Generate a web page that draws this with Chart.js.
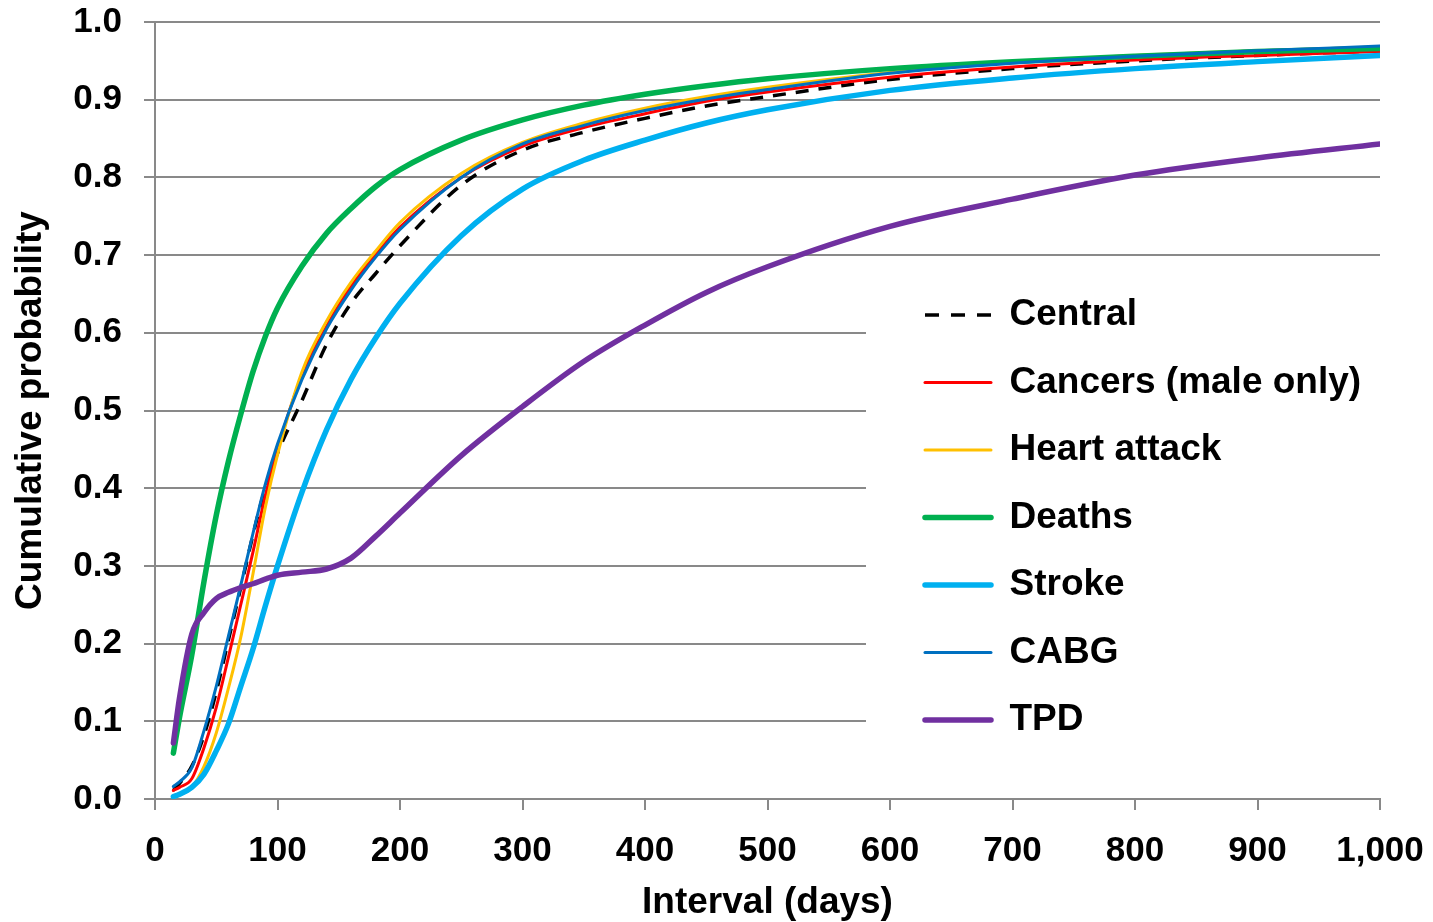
<!DOCTYPE html>
<html>
<head>
<meta charset="utf-8">
<script src="https://cdn.jsdelivr.net/npm/chart.js@4/dist/chart.umd.min.js"></script>
<style>
html,body{margin:0;padding:0;background:#fff;}
#wrap{position:relative;width:1433px;height:922px;}
</style>
</head>
<body>
<div id="wrap"><canvas id="c"></canvas></div>
<script>
// ---- data ----
const days = [15,20,30,40,50,60,70,80,90,100,120,140,160,180,200,250,300,350,400,450,500,600,700,800,900,1000];
const central     = [0.011,0.020,0.042,0.082,0.138,0.205,0.272,0.340,0.400,0.445,0.513,0.585,0.638,0.676,0.712,0.790,0.835,0.858,0.876,0.892,0.904,0.926,0.940,0.950,0.957,0.963];
const cancers     = [0.011,0.015,0.026,0.066,0.118,0.183,0.250,0.318,0.390,0.450,0.545,0.608,0.660,0.700,0.736,0.800,0.840,0.864,0.882,0.898,0.910,0.929,0.942,0.951,0.957,0.962];
const heartAttack = [0.002,0.005,0.015,0.042,0.085,0.143,0.208,0.290,0.375,0.443,0.550,0.615,0.665,0.705,0.742,0.805,0.845,0.870,0.889,0.904,0.916,0.935,0.948,0.957,0.963,0.968];
const deaths      = [0.059,0.105,0.185,0.280,0.365,0.435,0.495,0.550,0.595,0.632,0.686,0.728,0.760,0.788,0.810,0.848,0.874,0.893,0.907,0.918,0.927,0.940,0.949,0.956,0.962,0.966];
const stroke      = [0.003,0.006,0.015,0.032,0.062,0.097,0.145,0.193,0.248,0.300,0.395,0.475,0.540,0.593,0.638,0.725,0.785,0.822,0.848,0.870,0.887,0.912,0.928,0.940,0.949,0.957];
const cabg        = [0.016,0.022,0.040,0.088,0.145,0.210,0.275,0.342,0.405,0.457,0.540,0.605,0.655,0.697,0.733,0.800,0.843,0.867,0.886,0.901,0.913,0.934,0.947,0.956,0.963,0.969];
const tpd         = [0.072,0.130,0.212,0.240,0.258,0.266,0.272,0.277,0.283,0.288,0.292,0.296,0.310,0.338,0.368,0.442,0.505,0.563,0.610,0.652,0.685,0.737,0.772,0.803,0.825,0.843];
const seriesNames = ['Central','Cancers (male only)','Heart attack','Deaths','Stroke','CABG','TPD'];
const xTickLabels = ['0','100','200','300','400','500','600','700','800','900','1,000'];
const yTickLabels = ['0.0','0.1','0.2','0.3','0.4','0.5','0.6','0.7','0.8','0.9','1.0'];
const xTitle = 'Interval (days)';
const yTitle = 'Cumulative probability';

// ---- styles ----
const seriesValues = [central, cancers, heartAttack, deaths, stroke, cabg, tpd];
const FONT = '"Liberation Sans", Arial, sans-serif';
const GRID = '#898989';
const seriesStyles = [
  {color:'#000000', width:3.5, dash:[13,10], legendDash:[14,12]},
  {color:'#FF0000', width:3},
  {color:'#FFC000', width:3},
  {color:'#00B050', width:5.5},
  {color:'#00B0F0', width:5.5},
  {color:'#0070C0', width:3},
  {color:'#7030A0', width:5.5}
];

const datasets = seriesNames.map((name, i) => ({
  label: name,
  data: days.map((d, j) => ({x: d, y: seriesValues[i][j]})),
  borderColor: seriesStyles[i].color,
  backgroundColor: seriesStyles[i].color,
  borderWidth: seriesStyles[i].width,
  borderDash: seriesStyles[i].dash || [],
  borderCapStyle: seriesStyles[i].dash ? 'butt' : 'round',
  borderJoinStyle: 'round',
  pointRadius: 0,
  pointHoverRadius: 0,
  fill: false,
  cubicInterpolationMode: 'monotone',
  order: seriesNames.length - i
}));

const LEG_LINE_X = 925;
const LEG_FIRST_Y = 315;
const LEG_FONT = 37;
const LEG_PAD = 30.5;

const legendPlacer = {
  id: 'legendPlacer',
  afterLayout(chart) {
    const lg = chart.legend;
    if (!lg) return;
    lg.left = LEG_LINE_X - LEG_PAD;
    lg.top = LEG_FIRST_Y - LEG_FONT / 2 - LEG_PAD;
    lg.right = chart.width;
    lg.bottom = chart.chartArea.bottom;
    lg.width = lg.right - lg.left;
    lg.height = lg.bottom - lg.top;
    if (!lg._bgWrapped) {
      const orig = lg.draw;
      lg.draw = function (...args) {
        const ctx = this.ctx;
        const ca = chart.chartArea;
        ctx.save();
        ctx.fillStyle = '#ffffff';
        ctx.fillRect(866, 264, ca.right + 2 - 866, 500);
        ctx.restore();
        return orig.apply(this, args);
      };
      lg._bgWrapped = true;
    }
    if (lg.adjustHitBoxes) lg.adjustHitBoxes();
  }
};

function legendLabels(chart) {
  const items = Chart.defaults.plugins.legend.labels.generateLabels(chart);
  items.forEach((it) => {
    const st = seriesStyles[it.datasetIndex];
    it.strokeStyle = st.color;
    it.fillStyle = st.color;
    it.lineWidth = st.width;
    it.lineDash = st.legendDash || [];
    it.lineCap = st.dash ? 'butt' : 'round';
  });
  return items;
}

new Chart(document.getElementById('c'), {
  type: 'line',
  data: { datasets },
  options: {
    responsive: true,
    maintainAspectRatio: false,
    devicePixelRatio: 1,
    animation: false,
    events: [],
    layout: { padding: { left: 0, right: 53, top: 22, bottom: 0 } },
    plugins: {
      tooltip: { enabled: false },
      legend: {
        display: true,
        position: 'chartArea',
        align: 'start',
        labels: {
          usePointStyle: true,
          pointStyle: 'line',
          pointStyleWidth: 66,
          padding: LEG_PAD,
          color: '#000000',
          font: { size: LEG_FONT, weight: 'bold', family: FONT },
          generateLabels: legendLabels,
          sort: (a, b) => a.datasetIndex - b.datasetIndex
        }
      }
    },
    scales: {
      x: {
        type: 'linear',
        min: 0, max: 1000,
        afterFit: (s) => { s.height = 123; s.paddingLeft = 0; s.paddingRight = 0; },
        ticks: {
          stepSize: 100, autoSkip: false, maxRotation: 0, minRotation: 0,
          padding: 20, color: '#000000',
          font: { size: 35, weight: 'bold', family: FONT },
          callback: (v) => xTickLabels[Math.round(v / 100)]
        },
        grid: { drawOnChartArea: false, drawTicks: true, tickLength: 11, color: GRID, lineWidth: 2 },
        border: { display: true, color: GRID, width: 2 },
        title: { display: true, text: xTitle, color: '#000000',
                 font: { size: 37, weight: 'bold', family: FONT }, padding: { top: 0, bottom: -3 } }
      },
      y: {
        type: 'linear',
        min: 0, max: 1,
        afterFit: (s) => { s.width = 155; s.paddingTop = 0; s.paddingBottom = 0; },
        ticks: {
          stepSize: 0.1, autoSkip: false, padding: 22, color: '#000000',
          font: { size: 35, weight: 'bold', family: FONT },
          callback: (v) => yTickLabels[Math.round(v * 10)]
        },
        grid: { drawOnChartArea: true, drawTicks: true, tickLength: 11, color: GRID, lineWidth: 2 },
        border: { display: true, color: GRID, width: 2 },
        title: { display: true, text: yTitle, color: '#000000',
                 font: { size: 37, weight: 'bold', family: FONT }, padding: { top: 9, bottom: 0 } }
      }
    }
  },
  plugins: [legendPlacer]
});
</script>
</body>
</html>
